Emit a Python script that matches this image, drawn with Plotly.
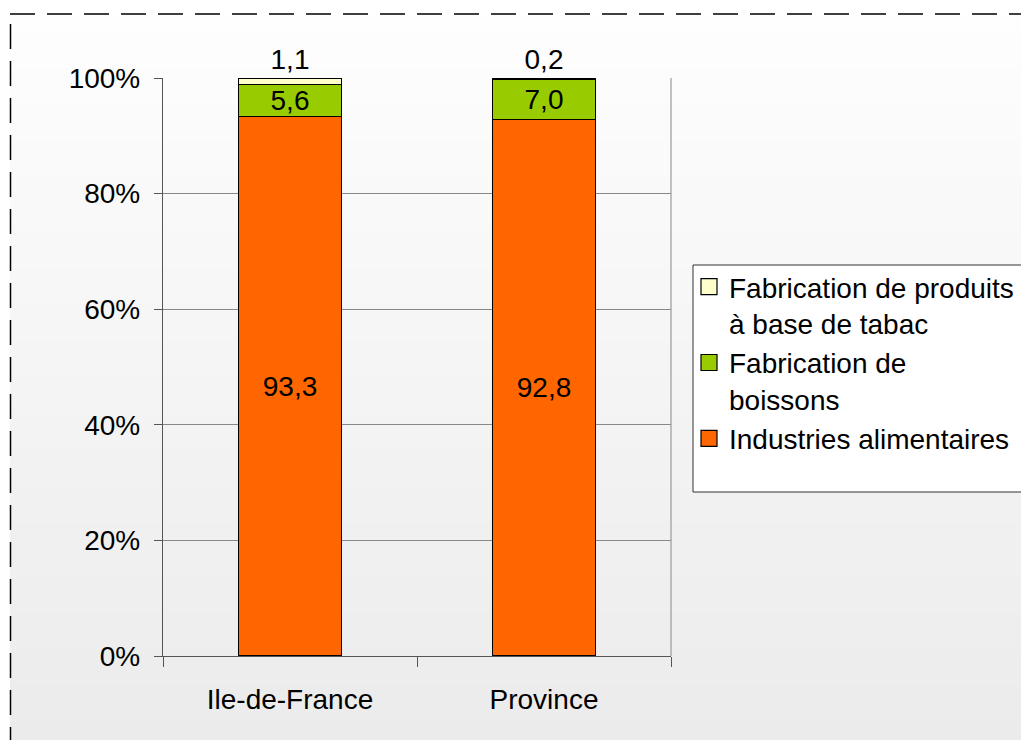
import plotly.graph_objects as go

# ---- data ----
categories = ["Ile-de-France", "Province"]
industries = [93.3, 92.8]
boissons = [5.6, 7.0]
tabac = [1.1, 0.2]
series_names = ["Industries alimentaires", "Fabrication de<br>boissons",
                "Fabrication de produits<br>à base de tabac"]
y_ticks = [0, 20, 40, 60, 80, 100]
y_tick_text = [f"{v}%" for v in y_ticks]

def fr(v):
    return f"{v:.1f}".replace(".", ",")

# ---- layout geometry (pixels) ----
FW, FH = 1021, 740
L, R, T, B = 163, 671, 78, 656
W, H = R - L, B - T

def px_x(p):
    return (p - L) / W

def px_y(p):
    return (B - p) / H

FONT = "Liberation Sans, Arial, sans-serif"
colors = ["#FF6600", "#99CC00", "#FFFFCC"]

fig = go.Figure()
for vals, name, col, pos in zip([industries, boissons, tabac], series_names, colors,
                                ["inside", "inside", "outside"]):
    fig.add_trace(go.Bar(
        x=categories, y=vals, name=name, showlegend=False,
        marker=dict(color=col, line=dict(color="black", width=1.3)),
        text=[fr(v) for v in vals], textposition=pos,
        insidetextanchor="middle", constraintext="none",
        textfont=dict(family=FONT, size=28, color="black"),
        outsidetextfont=dict(family=FONT, size=28, color="black"),
        cliponaxis=False, hoverinfo="skip",
    ))
# legend entries (square swatches)
for name, col in zip(series_names, colors):
    fig.add_trace(go.Scatter(
        x=[None], y=[None], mode="markers", name=name,
        marker=dict(symbol="square", size=16, color=col,
                    line=dict(color="black", width=1.2)),
        hoverinfo="skip",
    ))

shapes = []
# gradient background bands
n = 40
y_start, y_end = 14, FH
for i in range(n):
    y0 = y_start + (y_end - y_start) * i / n
    y1 = y_start + (y_end - y_start) * (i + 1) / n
    c = round(254 - (254 - 235) * (i + 0.5) / n)
    shapes.append(dict(type="rect", xref="paper", yref="paper", layer="below",
                       x0=px_x(10), x1=px_x(FW + 5), y0=px_y(y1 + 0.5), y1=px_y(y0),
                       fillcolor=f"rgb({c},{c},{c})", line=dict(width=0)))
# legend box
shapes.append(dict(type="rect", xref="paper", yref="paper", layer="below",
                   x0=px_x(693), x1=px_x(FW + 10), y0=px_y(492), y1=px_y(265),
                   fillcolor="white", line=dict(color="#333333", width=1)))
# dashed frame
shapes.append(dict(type="line", xref="paper", yref="paper", layer="above",
                   x0=px_x(10), x1=px_x(FW + 5), y0=px_y(14), y1=px_y(14),
                   line=dict(color="black", width=1.5, dash="25px,12px")))
shapes.append(dict(type="line", xref="paper", yref="paper", layer="above",
                   x0=px_x(10.5), x1=px_x(10.5), y0=px_y(24), y1=px_y(FH + 5),
                   line=dict(color="black", width=1.5, dash="25px,12px")))
# right border of plot area
shapes.append(dict(type="line", xref="paper", yref="paper", layer="above",
                   x0=1, x1=1, y0=0, y1=1, line=dict(color="#999999", width=1.2)))

fig.update_layout(
    width=FW, height=FH,
    margin=dict(l=L, r=FW - R, t=T, b=FH - B, pad=0, autoexpand=False),
    paper_bgcolor="white", plot_bgcolor="white",
    barmode="stack", bargap=0.595,
    font=dict(family=FONT, size=28, color="black"),
    shapes=shapes,
    showlegend=True,
    legend=dict(x=px_x(689), y=px_y(262), xanchor="left", yanchor="top",
                bgcolor="rgba(0,0,0,0)", borderwidth=0, traceorder="reversed",
                itemsizing="trace", valign="top",
                font=dict(family=FONT, size=28, color="black")),
    xaxis=dict(showline=True, linecolor="#555555", linewidth=1.3,
               ticks="outside", tickson="boundaries", ticklen=10,
               tickcolor="#555555", tickwidth=1.3, showgrid=False,
               ticklabelstandoff=18, tickfont=dict(size=28)),
    yaxis=dict(range=[0, 100], tickvals=y_ticks, ticktext=y_tick_text,
               showline=True, linecolor="#555555", linewidth=1.3,
               ticks="outside", ticklen=8, tickcolor="#555555", tickwidth=1.3,
               showgrid=True, gridcolor="#888888", gridwidth=1, zeroline=False,
               ticklabelstandoff=8, tickfont=dict(size=28)),
)

fig.write_html("out.html", config={"displayModeBar": False},
               post_script="document.body.style.margin='0';document.body.style.overflow='hidden';")
